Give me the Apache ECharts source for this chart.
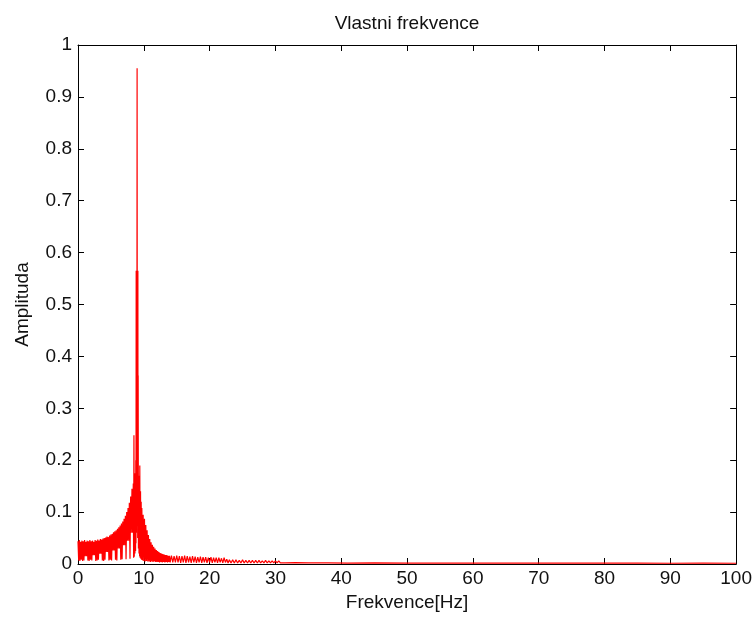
<!DOCTYPE html>
<html>
<head>
<meta charset="utf-8">
<script src="https://cdn.jsdelivr.net/npm/echarts@6/dist/echarts.min.js"></script>
<style>
html,body{margin:0;padding:0;background:#fff;}
#chart{width:755px;height:617px;}
</style>
</head>
<body>
<div id="chart"></div>
<script>
// Axis ticks
const xTicks = [0, 10, 20, 30, 40, 50, 60, 70, 80, 90, 100];
const yTicks = [0, 0.1, 0.2, 0.3, 0.4, 0.5, 0.6, 0.7, 0.8, 0.9, 1];

// Spectrum samples [frequency Hz, amplitude]
const lowBand = [
  [0.0,0.044],[0.1,0.007],[0.2,0.046],[0.3,0.006],[0.4,0.043],[0.5,0.008],[0.6,0.045],[0.7,0.006],
  [0.8,0.044],[0.9,0.007],[1.0,0.046],[1.1,0.015],[1.2,0.043],[1.3,0.015],[1.4,0.045],[1.5,0.007],
  [1.6,0.044],[1.7,0.006],[1.8,0.046],[1.9,0.008],[2.0,0.044],[2.1,0.007],[2.2,0.045],[2.3,0.017],
  [2.4,0.043],[2.5,0.017],[2.6,0.046],[2.7,0.006],[2.8,0.045],[2.9,0.007],[3.0,0.047],[3.1,0.008],
  [3.2,0.045],[3.3,0.020],[3.4,0.048],[3.5,0.020],[3.6,0.047],[3.7,0.007],[3.8,0.049],[3.9,0.006],
  [4.0,0.050],[4.1,0.008],[4.2,0.051],[4.3,0.023],[4.4,0.053],[4.5,0.023],[4.6,0.052],[4.7,0.007],
  [4.8,0.055],[4.9,0.008],[5.0,0.057],[5.1,0.007],[5.2,0.058],[5.3,0.026],[5.4,0.061],[5.5,0.026],
  [5.6,0.063],[5.7,0.008],[5.8,0.065],[5.9,0.007],[6.0,0.068],[6.1,0.030],[6.2,0.071],[6.3,0.030],
  [6.4,0.074],[6.5,0.008],[6.6,0.078],[6.7,0.009],[6.8,0.082],[6.9,0.036],[7.0,0.087],[7.1,0.036],
  [7.2,0.093],[7.3,0.009],[7.4,0.100],[7.5,0.045],[7.6,0.108],[7.7,0.045],[7.8,0.118],[7.9,0.010],
  [8.0,0.130],[8.1,0.060],[8.2,0.145],[8.3,0.060],[8.4,0.155]
];
const peakBand = [
  [8.45,0.012],[8.5,0.248],[8.55,0.014],[8.6,0.16],[8.65,0.02],[8.7,0.175],[8.75,0.025],[8.78,0.2],
  [8.81,0.04],[8.84,0.565],[8.88,0.06],[8.92,0.565],[8.95,0.3],[8.98,0.955],[9.01,0.2],[9.04,0.565],
  [9.07,0.05],[9.1,0.565],[9.12,0.1],[9.14,0.363],[9.18,0.03],[9.22,0.16],[9.27,0.02],[9.32,0.17],
  [9.36,0.015],[9.39,0.19],[9.44,0.012],[9.5,0.14],[9.55,0.01],[9.6,0.12],[9.65,0.008],[9.7,0.108],
  [9.8,0.007],[9.9,0.095]
];
const decayBand = [
  [10.0,0.006],[10.1,0.087],[10.2,0.005],[10.3,0.075],[10.4,0.006],[10.5,0.065],[10.6,0.005],[10.7,0.056],
  [10.8,0.005],[10.9,0.048],[11.0,0.004],[11.1,0.042],[11.2,0.005],[11.3,0.037],[11.4,0.004],[11.5,0.033],
  [11.6,0.005],[11.7,0.030],[11.8,0.004],[11.9,0.027],[12.0,0.004],[12.1,0.025],[12.2,0.004],[12.3,0.023],
  [12.4,0.003],[12.5,0.021],[12.6,0.004],[12.7,0.020],[12.8,0.003],[12.9,0.019],[13.0,0.004],[13.1,0.018],
  [13.2,0.003],[13.3,0.017],[13.4,0.004],[13.5,0.017],[13.6,0.003],[13.7,0.016],[13.8,0.004],[13.9,0.016],
  [14.0,0.003]
];
const midBand = [
  [14.2,0.016],[14.4,0.003],[14.6,0.015],[14.8,0.003],[15.0,0.016],[15.2,0.003],[15.4,0.015],[15.6,0.002],
  [15.8,0.015],[16.0,0.003],[16.2,0.016],[16.4,0.002],[16.6,0.015],[16.8,0.003],[17.0,0.014],[17.2,0.002],
  [17.4,0.015],[17.6,0.003],[17.8,0.014],[18.0,0.002],[18.2,0.013],[18.4,0.003],[18.6,0.014],[18.8,0.002],
  [19.0,0.013],[19.2,0.003],[19.4,0.013],[19.6,0.002],[19.8,0.012],[20.0,0.003],[20.2,0.013],[20.4,0.002],
  [20.6,0.012],[20.8,0.003],[21.0,0.012],[21.2,0.002],[21.4,0.012],[21.6,0.003],[21.8,0.011],[22.0,0.002],
  [22.2,0.012],[22.4,0.003],[22.6,0.009],[22.8,0.002],[23.0,0.008]
];
const shoulderBand = [
  [23.25,0.002],[23.5,0.008],[23.75,0.002],[24.0,0.008],[24.25,0.002],[24.5,0.007],[24.75,0.002],[25.0,0.008],
  [25.25,0.002],[25.5,0.007],[25.75,0.002],[26.0,0.007],[26.25,0.002],[26.5,0.007],[26.75,0.002],[27.0,0.007],
  [27.25,0.002],[27.5,0.007],[27.75,0.002],[28.0,0.006],[28.25,0.002],[28.5,0.007],[28.75,0.002],[29.0,0.006],
  [29.25,0.002],[29.5,0.006],[29.75,0.002],[30.0,0.006],[30.25,0.002],[30.5,0.006],[30.75,0.002],[31.0,0.004]
];
const tailBand = [
  [31.5,0.002],[33,0.0025],[35,0.002],[38,0.0022],[41,0.0018],[45,0.002],[50,0.0017],[55,0.0019],
  [60,0.0016],[65,0.0018],[70,0.0015],[75,0.0017],[80,0.0015],[85,0.0016],[90,0.0014],[95,0.0015],[100,0.0014]
];

const spectrum = [].concat(lowBand, peakBand, decayBand, midBand, shoulderBand, tailBand);

const FONT = "'Liberation Sans', Arial, sans-serif";
const txt = { color: '#111', fontSize: 19, fontFamily: FONT };
const lineStyle = { show: true, onZero: false, lineStyle: { color: '#000', width: 1 } };
const tick = { show: true, inside: true, length: 6, lineStyle: { color: '#000', width: 1 } };

const xMin = xTicks[0], xMax = xTicks[xTicks.length - 1], xStep = xTicks[1] - xTicks[0];
const yMin = yTicks[0], yMax = yTicks[yTicks.length - 1], yStep = 0.1;

const chart = echarts.init(document.getElementById('chart'), null, { renderer: 'canvas' });
chart.setOption({
  animation: false,
  backgroundColor: '#fff',
  textStyle: { fontFamily: FONT },
  title: {
    text: 'Vlastni frekvence',
    left: 402, top: 9, textAlign: 'center',
    textStyle: { color: '#111', fontSize: 19, fontWeight: 'normal', fontFamily: FONT }
  },
  grid: { left: 78, right: 17, top: 45, bottom: 52, containLabel: false },
  xAxis: [
    {
      type: 'value', position: 'bottom', min: xMin, max: xMax, interval: xStep,
      axisLine: lineStyle, axisTick: tick, splitLine: { show: false },
      axisLabel: Object.assign({ margin: 5 }, txt),
      name: 'Frekvence[Hz]', nameLocation: 'middle', nameGap: 29, nameTextStyle: txt
    },
    {
      type: 'value', position: 'top', min: xMin, max: xMax, interval: xStep,
      axisLine: lineStyle, axisTick: tick, splitLine: { show: false },
      axisLabel: { show: false }
    }
  ],
  yAxis: [
    {
      type: 'value', position: 'left', min: yMin, max: yMax, interval: yStep,
      axisLine: lineStyle, axisTick: tick, splitLine: { show: false },
      axisLabel: Object.assign({ margin: 6, formatter: v => String(+v.toFixed(1)) }, txt),
      name: 'Amplituda', nameLocation: 'middle', nameGap: 46, nameRotate: 90, nameTextStyle: txt
    },
    {
      type: 'value', position: 'right', min: yMin, max: yMax, interval: yStep,
      axisLine: lineStyle, axisTick: tick, splitLine: { show: false },
      axisLabel: { show: false }
    }
  ],
  series: [{
    type: 'line',
    xAxisIndex: 0, yAxisIndex: 0,
    data: spectrum,
    showSymbol: false, symbol: 'none',
    lineStyle: { color: '#ff0000', width: 1.2 },
    itemStyle: { color: '#ff0000' },
    clip: true, z: 3
  }]
});
</script>
</body>
</html>
